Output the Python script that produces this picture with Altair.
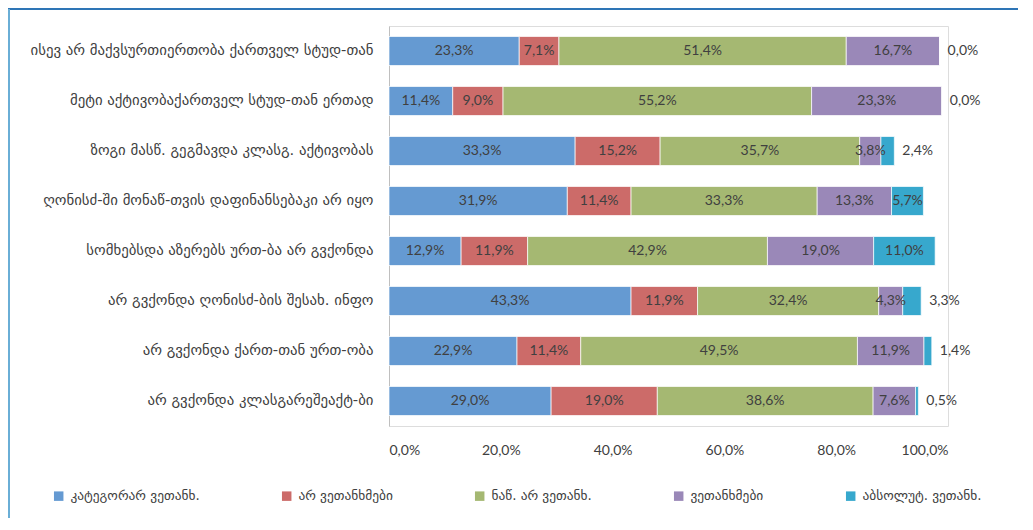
import altair as alt
import pandas as pd

categories = [
    "ისევ არ მაქვსურთიერთობა ქართველ სტუდ-თან",
    "მეტი აქტივობაქართველ სტუდ-თან ერთად",
    "ზოგი მასწ. გეგმავდა კლასგ. აქტივობას",
    "ღონისძ-ში მონაწ-თვის დაფინანსებაკი არ იყო",
    "სომხებსდა აზერებს ურთ-ბა არ გვქონდა",
    "არ გვქონდა ღონისძ-ბის შესახ. ინფო",
    "არ გვქონდა ქართ-თან ურთ-ობა",
    "არ გვქონდა კლასგარეშეაქტ-ბი",
]
series = [
    "კატეგორარ ვეთანხ.",
    "არ ვეთანხმები",
    "ნაწ. არ ვეთანხ.",
    "ვეთანხმები",
    "აბსოლუტ. ვეთანხ.",
]
colors = ["#659AD2", "#CC6B69", "#A5B872", "#9A88B8", "#37A8CD"]

cat_disagree = [23.3, 11.4, 33.3, 31.9, 12.9, 43.3, 22.9, 29.0]
disagree = [7.1, 9.0, 15.2, 11.4, 11.9, 11.9, 11.4, 19.0]
partly = [51.4, 55.2, 35.7, 33.3, 42.9, 32.4, 49.5, 38.6]
agree = [16.7, 23.3, 3.8, 13.3, 19.0, 4.3, 11.9, 7.6]
abs_agree = [0.0, 0.0, 2.4, 5.7, 11.0, 3.3, 1.4, 0.5]

values = [cat_disagree, disagree, partly, agree, abs_agree]
rows = []
for si, (s, vals) in enumerate(zip(series, values)):
    for c, v in zip(categories, vals):
        rows.append({"cat": c, "series": s, "order": si, "value": v,
                     "label": f"{v:.1f}%".replace(".", ",")})
df = pd.DataFrame(rows)

NUMFONT = "Lato"
GEOFONT = "DejaVu Sans"
TXT = "#404040"

y_enc = alt.Y(
    "cat:N", sort=categories, title=None,
    scale=alt.Scale(paddingInner=0.42, paddingOuter=0.21),
    axis=alt.Axis(domain=True, domainColor="#BFBFBF", domainWidth=1, ticks=False,
                  labelPadding=16, labelFont=GEOFONT, labelFontSize=14.8,
                  labelColor=TXT, labelLimit=400, minExtent=381, maxExtent=381),
)

base = alt.Chart(df).transform_stack(
    stack="value", as_=["x0", "x1"], groupby=["cat"],
    sort=[alt.SortField("order", order="ascending")],
)

bars = base.mark_bar(stroke="white", strokeWidth=0.7).encode(
    y=y_enc,
    x=alt.X("x0:Q", title=None, scale=alt.Scale(domain=[0, 100], nice=False),
            axis=alt.Axis(values=[0, 20, 40, 60, 80, 100], domain=False, ticks=False,
                          grid=False, labelPadding=17, labelFont=NUMFONT,
                          labelFontSize=14, labelColor=TXT,
                          labelExpr="replace(format(datum.value/100, '.1%'), '.', ',')")),
    x2="x1:Q",
    color=alt.Color("series:N", scale=alt.Scale(domain=series, range=colors),
                    legend=alt.Legend(title=None, orient="none", legendX=-337, legendY=463,
                                      direction="horizontal", columns=5, gridAlign="each",
                                      padding=0, symbolType="square", symbolSize=90,
                                      symbolStrokeWidth=0, labelFont=GEOFONT,
                                      labelFontSize=13.4, labelColor=TXT,
                                      labelOffset=5, columnPadding=80, labelLimit=300)),
    order=alt.Order("order:Q"),
)

inside = base.transform_filter(
    "!(datum.order == 4 && datum.value < 5)"
).transform_calculate(mid="(datum.x0 + datum.x1) / 2").mark_text(
    font=NUMFONT, fontSize=14, color=TXT, align="center", baseline="middle"
).encode(y=alt.Y("cat:N", sort=categories), x="mid:Q", text="label:N")

outside = base.transform_filter(
    "datum.order == 4 && datum.value < 5"
).mark_text(
    font=NUMFONT, fontSize=14, color=TXT, align="left", baseline="middle", dx=8
).encode(y=alt.Y("cat:N", sort=categories), x="x1:Q", text="label:N")

frame_df = pd.DataFrame({"a": [0]})
frame_top = alt.Chart(frame_df).mark_rule(color="#2E75B6", strokeWidth=2).encode(
    x=alt.value(-381), x2=alt.value(630), y=alt.value(-17))
frame_left = alt.Chart(frame_df).mark_rule(color="#6AAED6", strokeWidth=2).encode(
    x=alt.value(-380), y=alt.value(-17), y2=alt.value(496))

chart = alt.layer(frame_top, frame_left, bars, inside, outside).properties(
    width=559, height=400,
    autosize=alt.AutoSizeParams(type="none"),
    padding={"left": 381, "top": 18, "right": 70, "bottom": 92},
).configure_view(stroke=None).configure(background="white")

chart.save("out.html", embed_options={"renderer": "svg", "actions": False})
